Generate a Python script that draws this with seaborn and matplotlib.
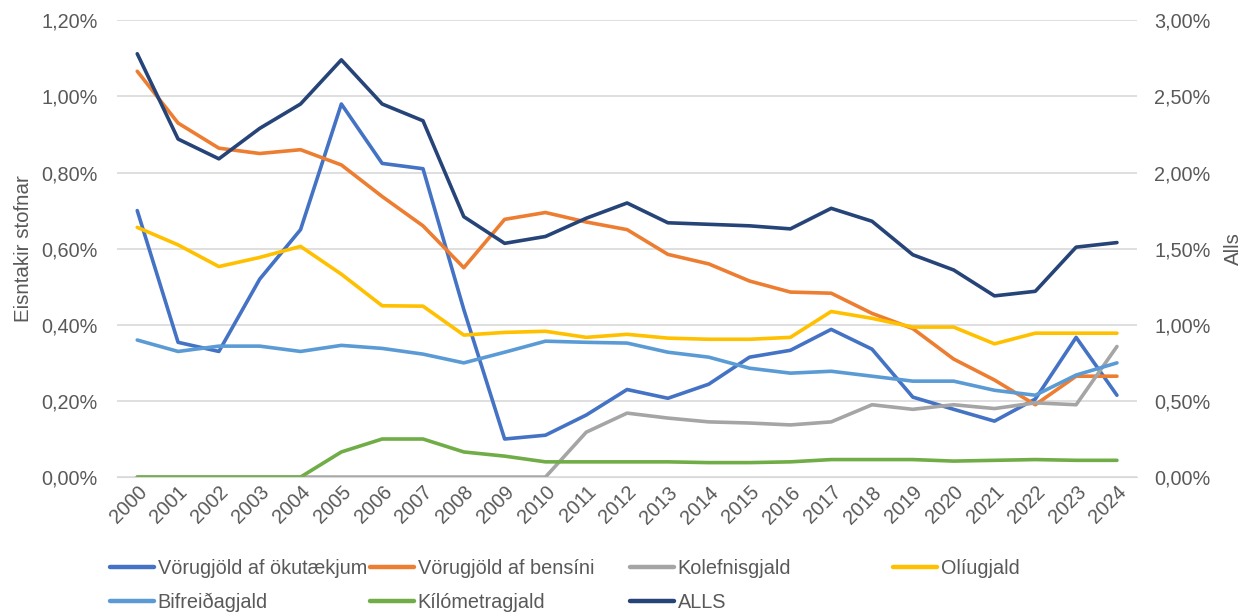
import numpy as np
import pandas as pd
import matplotlib

matplotlib.use('Agg')
import matplotlib.pyplot as plt
import seaborn as sns
from matplotlib.ticker import FuncFormatter, MultipleLocator
from matplotlib.lines import Line2D

years = list(range(2000, 2025))

# einstakir stofnar (vinstri ás, %)
okutaeki = [0.70, 0.354, 0.33, 0.52, 0.65, 0.98, 0.824, 0.81, 0.44, 0.10, 0.11, 0.163, 0.23,
            0.207, 0.244, 0.315, 0.333, 0.388, 0.336, 0.21, 0.178, 0.147, 0.205, 0.367, 0.215]
bensin = [1.066, 0.93, 0.864, 0.85, 0.86, 0.82, 0.737, 0.66, 0.55, 0.677, 0.695, 0.67, 0.65,
          0.585, 0.56, 0.515, 0.486, 0.483, 0.43, 0.39, 0.31, 0.255, 0.19, 0.265, 0.265]
kolefni = [0, 0, 0, 0, 0, 0, 0, 0, 0, 0, 0, 0.118, 0.168,
           0.155, 0.145, 0.142, 0.137, 0.145, 0.19, 0.178, 0.19, 0.18, 0.195, 0.19, 0.343]
olia = [0.656, 0.61, 0.553, 0.577, 0.606, 0.533, 0.45, 0.449, 0.373, 0.38, 0.383, 0.367, 0.375,
        0.365, 0.362, 0.362, 0.367, 0.435, 0.417, 0.394, 0.394, 0.35, 0.378, 0.378, 0.378]
bifreid = [0.36, 0.33, 0.344, 0.344, 0.33, 0.346, 0.338, 0.323, 0.30, 0.328, 0.357, 0.354, 0.352,
           0.328, 0.315, 0.286, 0.273, 0.278, 0.265, 0.252, 0.252, 0.228, 0.215, 0.268, 0.30]
kilometri = [0, 0, 0, 0, 0, 0.066, 0.10, 0.10, 0.066, 0.055, 0.04, 0.04, 0.04,
             0.04, 0.038, 0.038, 0.04, 0.046, 0.046, 0.046, 0.042, 0.044, 0.046, 0.044, 0.044]
# samtals (hægri ás, %)
alls = [2.78, 2.22, 2.09, 2.29, 2.45, 2.74, 2.45, 2.34, 1.71, 1.535, 1.58, 1.70, 1.80,
        1.67, 1.66, 1.65, 1.63, 1.765, 1.68, 1.46, 1.36, 1.19, 1.22, 1.51, 1.54]

names = ['Vörugjöld af ökutækjum', 'Vörugjöld af bensíni', 'Kolefnisgjald', 'Olíugjald',
         'Bifreiðagjald', 'Kílómetragjald']
colors = ['#4472C4', '#ED7D31', '#A5A5A5', '#FFC000', '#5B9BD5', '#70AD47']
alls_color = '#264478'

df = pd.DataFrame({'Ár': years, names[0]: okutaeki, names[1]: bensin, names[2]: kolefni,
                   names[3]: olia, names[4]: bifreid, names[5]: kilometri})
long_df = df.melt(id_vars='Ár', var_name='Liður', value_name='Hlutfall')
alls_df = pd.DataFrame({'Ár': years, 'ALLS': alls})

sns.set_style('white')
plt.rcParams['font.family'] = ['Liberation Sans', 'DejaVu Sans']
txt_color = '#595959'
fs = 14.3

fig = plt.figure(figsize=(12.43, 6.14), dpi=100)
ax = fig.add_axes([0.094, 0.223, 0.821, 0.744])

sns.lineplot(data=long_df, x='Ár', y='Hlutfall', hue='Liður', hue_order=names,
             palette=colors, linewidth=2.6, legend=False, ax=ax)

ax2 = ax.twinx()
sns.lineplot(data=alls_df, x='Ár', y='ALLS', color=alls_color, linewidth=2.6, ax=ax2)

pct = FuncFormatter(lambda v, p: f'{v:.2f}%'.replace('.', ','))
ax.set_ylim(0, 1.2)
ax.yaxis.set_major_locator(MultipleLocator(0.2))
ax.yaxis.set_major_formatter(pct)
ax2.set_ylim(0, 3.0)
ax2.yaxis.set_major_locator(MultipleLocator(0.5))
ax2.yaxis.set_major_formatter(pct)

ax.set_xlim(1999.5, 2024.5)
ax.set_xticks(years)
ax.set_xticklabels([str(y) for y in years], rotation=45, ha='right', rotation_mode='anchor')

ax.grid(axis='y', color='#D9D9D9', linewidth=1.2)
ax.set_axisbelow(True)
for a in (ax, ax2):
    for s in a.spines.values():
        s.set_visible(False)
    a.tick_params(axis='both', length=0, labelsize=fs, colors=txt_color)
ax.spines['bottom'].set_visible(True)
ax.spines['bottom'].set_color('#D9D9D9')
ax.tick_params(axis='y', pad=14)
ax.tick_params(axis='x', pad=4)
ax2.tick_params(axis='y', pad=12)

ax.set_xlabel('')
ax.set_ylabel('Eisntakir stofnar', fontsize=14.8, color=txt_color, labelpad=6)
ax2.set_ylabel('Alls', fontsize=14.8, color=txt_color, labelpad=10, rotation=90)

# þjóðsaga í fjórum dálkum
handles = [Line2D([], [], color=c, linewidth=3.2) for c in colors]
alls_handle = Line2D([], [], color=alls_color, linewidth=3.2)
columns = [([handles[0], handles[4]], [names[0], names[4]]),
           ([handles[1], handles[5]], [names[1], names[5]]),
           ([handles[2], alls_handle], [names[2], 'ALLS']),
           ([handles[3]], [names[3]])]
col_x = [0.0885, 0.2977, 0.5068, 0.7184]
for (h, l), x in zip(columns, col_x):
    leg = fig.legend(h, l, loc='upper left', bbox_to_anchor=(x, 0.090), frameon=False,
                     fontsize=fs, handlelength=2.2, handletextpad=0.2, labelspacing=0.75,
                     borderaxespad=0, borderpad=0)
    for t in leg.get_texts():
        t.set_color(txt_color)

fig.savefig('out.png', dpi=100)
